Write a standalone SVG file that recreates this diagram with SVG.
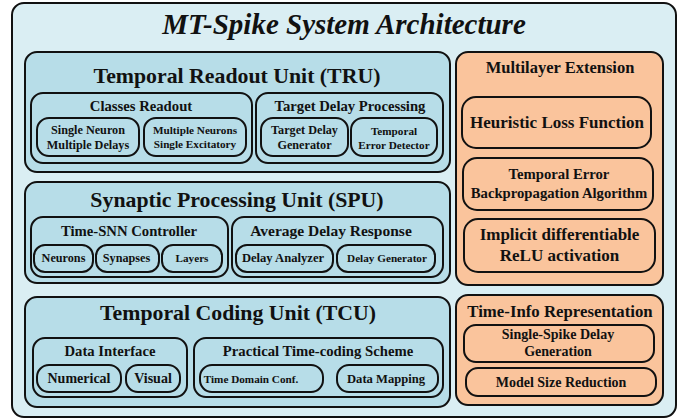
<svg xmlns="http://www.w3.org/2000/svg" width="686" height="420" viewBox="0 0 686 420">
<style>
text{font-family:"Liberation Serif","Times New Roman",serif;font-weight:bold;fill:#111;text-anchor:middle}
.o{fill:#DAEEF3;stroke:#111;stroke-width:2}
.b{fill:#B7DDE8;stroke:#111;stroke-width:2}
.r{fill:#FAC49C;stroke:#111;stroke-width:2}
.t1{font-size:29px;font-style:italic}
.t2{font-size:21.8px}
.t3{font-size:14.7px}
.t4{font-size:12.2px}
.t5{font-size:11.2px}
.t6{font-size:17px}
.t7{font-size:14px}
</style>
<g id="system">
<rect class="o" x="12" y="3" width="664" height="414" rx="12"/>
<text class="t1" x="344" y="34">MT-Spike System Architecture</text>
</g>
<g id="tru">
<rect class="b" x="25" y="52" width="425" height="120" rx="12"/>
<text class="t2" x="237" y="83">Temporal Readout Unit (TRU)</text>
</g>
<g id="classes-readout">
<rect class="b" x="31" y="93" width="221" height="70" rx="12"/>
<text class="t3" x="141" y="111">Classes Readout</text>
</g>
<g id="single-neuron">
<rect class="b" x="37" y="118" width="102" height="38" rx="12"/>
<text class="t4" x="88" y="134">Single Neuron</text>
<text class="t4" x="88" y="149">Multiple Delays</text>
</g>
<g id="multiple-neurons">
<rect class="b" x="144" y="118" width="102" height="38" rx="12"/>
<text class="t5" x="195" y="134">Multiple Neurons</text>
<text class="t5" x="195" y="148">Single Excitatory</text>
</g>
<g id="target-delay-processing">
<rect class="b" x="256" y="93" width="187" height="70" rx="12"/>
<text class="t3" x="350" y="111">Target Delay Processing</text>
</g>
<g id="target-delay-generator">
<rect class="b" x="261" y="118" width="87" height="38" rx="12"/>
<text class="t4" x="304.5" y="134">Target Delay</text>
<text class="t4" x="304.5" y="149">Generator</text>
</g>
<g id="temporal-error-detector">
<rect class="b" x="351" y="118" width="86" height="38" rx="12"/>
<text class="t5" x="394" y="135">Temporal</text>
<text class="t5" x="394" y="149">Error Detector</text>
</g>
<g id="spu">
<rect class="b" x="25" y="182" width="425" height="101" rx="12"/>
<text class="t2" x="237" y="207">Synaptic Processing Unit (SPU)</text>
</g>
<g id="time-snn-controller">
<rect class="b" x="31" y="217" width="197" height="60" rx="12"/>
<text class="t3" x="129" y="236">Time-SNN Controller</text>
</g>
<g id="neurons">
<rect class="b" x="34" y="245" width="59" height="27" rx="11"/>
<text class="t4" x="63.5" y="262">Neurons</text>
</g>
<g id="synapses">
<rect class="b" x="96" y="245" width="63" height="27" rx="11"/>
<text class="t4" x="126.5" y="262">Synapses</text>
</g>
<g id="layers">
<rect class="b" x="162" y="245" width="60" height="27" rx="11"/>
<text class="t5" x="192" y="262">Layers</text>
</g>
<g id="average-delay-response">
<rect class="b" x="232" y="217" width="211" height="60" rx="12"/>
<text class="t3" x="331" y="236" style="font-size:15.5px">Average Delay Response</text>
</g>
<g id="delay-analyzer">
<rect class="b" x="236" y="245" width="97" height="27" rx="11"/>
<text class="t4" x="283" y="262" style="font-size:12.6px">Delay Analyzer</text>
</g>
<g id="delay-generator">
<rect class="b" x="337" y="245" width="98" height="27" rx="11"/>
<text class="t5" x="387" y="262">Delay Generator</text>
</g>
<g id="tcu">
<rect class="b" x="25" y="297" width="425" height="110" rx="12"/>
<text class="t2" x="238" y="320">Temporal Coding Unit (TCU)</text>
</g>
<g id="data-interface">
<rect class="b" x="33" y="338" width="154" height="59" rx="12"/>
<text class="t3" x="110" y="356">Data Interface</text>
</g>
<g id="numerical">
<rect class="b" x="37" y="365" width="84" height="27" rx="12"/>
<text class="t7" x="79" y="383">Numerical</text>
</g>
<g id="visual">
<rect class="b" x="126" y="365" width="54" height="27" rx="12"/>
<text class="t7" x="153" y="383">Visual</text>
</g>
<g id="practical-time-coding">
<rect class="b" x="194" y="338" width="249" height="59" rx="12"/>
<text class="t3" x="318" y="356">Practical Time-coding Scheme</text>
</g>
<g id="time-domain-conf">
<rect class="b" x="200" y="365" width="123" height="27" rx="12"/>
<text class="t5" x="251" y="383">Time Domain Conf.</text>
</g>
<g id="data-mapping">
<rect class="b" x="337" y="365" width="101" height="27" rx="12"/>
<text class="t4" x="386" y="383" style="font-size:12.6px">Data Mapping</text>
</g>
<g id="multilayer-extension">
<rect class="r" x="456" y="52" width="207" height="233" rx="12"/>
<text class="t3" x="560" y="73" style="font-size:16.5px">Multilayer Extension</text>
</g>
<g id="heuristic-loss">
<rect class="r" x="462" y="97" width="189" height="51" rx="14"/>
<text class="t6" x="557" y="128">Heuristic Loss Function</text>
</g>
<g id="temporal-error-backprop">
<rect class="r" x="463" y="158" width="190" height="52" rx="14"/>
<text class="t3" x="559" y="179">Temporal Error</text>
<text class="t3" x="559" y="198">Backpropagation Algorithm</text>
</g>
<g id="implicit-relu">
<rect class="r" x="464" y="219" width="191" height="53" rx="14"/>
<text class="t6" x="559.5" y="240">Implicit differentiable</text>
<text class="t6" x="559.5" y="261">ReLU activation</text>
</g>
<g id="time-info-representation">
<rect class="r" x="456" y="295" width="207" height="110" rx="12"/>
<text class="t3" x="560" y="317" style="font-size:16.8px">Time-Info Representation</text>
</g>
<g id="single-spike-delay">
<rect class="r" x="464" y="325" width="190" height="37" rx="12"/>
<text class="t7" x="558" y="339">Single-Spike Delay</text>
<text class="t7" x="558" y="356">Generation</text>
</g>
<g id="model-size-reduction">
<rect class="r" x="466" y="368" width="190" height="28" rx="12"/>
<text class="t7" x="561" y="387">Model Size Reduction</text>
</g>
<g id="connectors"/>
</svg>
